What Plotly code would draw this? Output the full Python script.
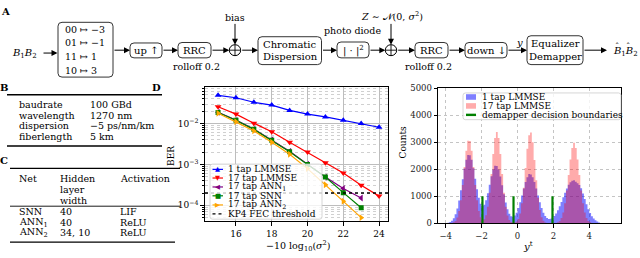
import plotly.graph_objects as go

W, H = 640, 258
SERIF = "DejaVu Serif"

# ---------------- Panel D data: BER vs noise level ----------------
snr_all = [15, 16, 17, 18, 19, 20, 21, 22, 23, 24]
snr_nets = [15, 16, 17, 18, 19, 20, 21, 22, 23]
ber_lmmse_1tap = [0.049, 0.0427, 0.0331, 0.0282, 0.0209, 0.0170, 0.0145, 0.0121, 0.0100, 0.0081]
ber_lmmse_17tap = [0.0257, 0.0170, 0.0102, 0.0063, 0.0035, 0.00200, 0.00110, 0.00062, 0.00031, 0.000168]
ber_ann1 = [0.0188, 0.0121, 0.0073, 0.0040, 0.0021, 0.00101, 0.00049, 0.000257, 0.000151]
ber_snn = [0.0186, 0.0120, 0.0072, 0.0039, 0.00204, 0.00100, 0.00049, 0.000204, 0.000087]
ber_ann2 = [0.0178, 0.0110, 0.0066, 0.00347, 0.00178, 0.00079, 0.00032, 0.000126, 0.000050]
kp4_threshold = 2.0e-4
names_d = ["1 tap LMMSE", "17 tap LMMSE", "17 tap ANN<sub>1</sub>", "17 tap SNN",
           "17 tap ANN<sub>2</sub>", "KP4 FEC threshold"]

# ---------------- Panel E data: histogram of equalised symbols ----------------
hist_first_edge = -3.9
hist_bin_width = 0.1
counts_1tap = [20, 45, 94, 180, 330, 545, 840, 1220, 1630, 2030, 2350, 2530, 2520, 2350, 2040,
               1650, 1260, 940, 720, 640, 680, 850, 1110, 1430, 1740, 1990, 2130, 2120, 1990,
               1730, 1410, 1070, 765, 520, 350, 256, 236, 282, 392, 559, 776, 1025, 1287, 1525,
               1707, 1820, 1810, 1707, 1526, 1289, 1028, 777, 559, 387, 265, 190, 158, 162, 200,
               265, 360, 481, 624, 786, 958, 1130, 1290, 1425, 1522, 1574, 1590, 1540, 1480,
               1420, 1300, 1100, 900, 700, 520, 380, 260, 170, 110, 60, 30, 12, 4]
counts_17tap = [0, 2, 10, 31, 86, 209, 450, 853, 1419, 2080, 2686, 3060, 3051, 2686, 2080,
                1419, 853, 454, 222, 128, 148, 296, 611, 1128, 1824, 2570, 3156, 3380, 3156,
                2570, 1824, 1128, 608, 286, 117, 43, 18, 23, 59, 155, 363, 741, 1318, 2044,
                2764, 3258, 3360, 3001, 2344, 1597, 948, 491, 222, 87, 30, 9, 2, 1, 1,
                4, 11, 33, 84, 194, 399, 736, 1213, 1789, 2362, 2791, 2980, 2791, 2362,
                1789, 1213, 736, 399, 194, 84, 33, 11, 4, 1, 0, 0, 0, 0]
decision_boundaries = [-1.95, -0.22, 1.95]
boundary_height = 1000
names_e = ["1 tap LMMSE", "17 tap LMMSE", "demapper decision boundaries"]

# ---------------- helpers (pixel -> paper) ----------------
def px(x):
    return x / W

def py(y):
    return 1 - y / H

def txt(x, y, s, size=10, anchor="center", color="black", family=SERIF, angle=0):
    return dict(x=px(x), y=py(y), xref="paper", yref="paper", text=s, showarrow=False,
                xanchor=anchor, yanchor="middle", textangle=angle,
                font=dict(family=family, size=size, color=color))

def arrow(x0, y0, x1, y1):
    return dict(x=px(x1), y=py(y1), xref="paper", yref="paper", ax=x0 - x1, ay=y0 - y1,
                axref="pixel", ayref="pixel", text="", showarrow=True, arrowhead=2,
                arrowsize=1.2, arrowwidth=1, arrowcolor="black", standoff=0)

def rrect(x0, y0, x1, y1, r=4, line="#333333", fill="white", width=1, layer="above"):
    X, Y = px, py
    p = (f"M {X(x0+r)},{Y(y0)} L {X(x1-r)},{Y(y0)} Q {X(x1)},{Y(y0)} {X(x1)},{Y(y0+r)} "
         f"L {X(x1)},{Y(y1-r)} Q {X(x1)},{Y(y1)} {X(x1-r)},{Y(y1)} L {X(x0+r)},{Y(y1)} "
         f"Q {X(x0)},{Y(y1)} {X(x0)},{Y(y1-r)} L {X(x0)},{Y(y0+r)} Q {X(x0)},{Y(y0)} {X(x0+r)},{Y(y0)} Z")
    return dict(type="path", path=p, xref="paper", yref="paper", layer=layer,
                line=dict(color=line, width=width), fillcolor=fill)

def hline(x0, x1, y, width=1.2, color="black", dash="solid"):
    return dict(type="line", xref="paper", yref="paper", x0=px(x0), x1=px(x1), y0=py(y), y1=py(y),
                line=dict(color=color, width=width, dash=dash), layer="above")

def rect(x0, y0, x1, y1, fill):
    return dict(type="rect", xref="paper", yref="paper", x0=px(x0), x1=px(x1), y0=py(y1), y1=py(y0),
                line=dict(width=0), fillcolor=fill, layer="above")

fig = go.Figure()

# ---------------- Panel D traces ----------------
styles = [("#0000ff", "triangle-up", 6), ("#ff0000", "triangle-down", 6), ("#800080", "triangle-left", 6),
          ("#008000", "square", 5), ("#ffa500", "triangle-right", 6)]
series = [(snr_all, ber_lmmse_1tap), (snr_all, ber_lmmse_17tap), (snr_nets, ber_ann1),
          (snr_nets, ber_snn), (snr_nets, ber_ann2)]
for (xs, ys), (c, sym, sz), nm in zip(series, styles, names_d):
    fig.add_trace(go.Scatter(x=xs, y=ys, mode="lines+markers", name=nm, xaxis="x", yaxis="y",
                             line=dict(color=c, width=1.2), marker=dict(color=c, symbol=sym, size=sz)))
xr_d = [14.27, 24.5]
fig.add_trace(go.Scatter(x=xr_d, y=[kp4_threshold, kp4_threshold], mode="lines", xaxis="x", yaxis="y",
                         line=dict(color="black", width=1.3, dash="dot"), name=names_d[5]))

# ---------------- Panel E traces ----------------
n = len(counts_1tap)
edges = [hist_first_edge + i * hist_bin_width for i in range(n + 1)]
fig.add_trace(go.Scatter(x=edges, y=counts_1tap + [counts_1tap[-1]], mode="lines", line_shape="hv",
                         fill="tozeroy", fillcolor="rgba(0,0,255,0.5)", line=dict(width=0),
                         xaxis="x2", yaxis="y2", name=names_e[0]))
fig.add_trace(go.Scatter(x=edges, y=counts_17tap + [counts_17tap[-1]], mode="lines", line_shape="hv",
                         fill="tozeroy", fillcolor="rgba(255,0,0,0.33)", line=dict(width=0),
                         xaxis="x2", yaxis="y2", name=names_e[1]))
bx, by = [], []
for b in decision_boundaries:
    bx += [b, b, None]
    by += [0, boundary_height, None]
fig.add_trace(go.Scatter(x=bx, y=by, mode="lines", line=dict(color="#008000", width=2.2),
                         xaxis="x2", yaxis="y2", name=names_e[2]))

# ---------------- axes ----------------
minor_d = [m * 10 ** e for e in range(-5, -1) for m in range(2, 10)]
tickfont = dict(family=SERIF, size=9, color="black")
fig.update_layout(
    width=W, height=H, margin=dict(l=0, r=0, t=0, b=0), paper_bgcolor="white",
    plot_bgcolor="white", showlegend=False,
    xaxis=dict(domain=[px(205), px(388)], anchor="y", range=xr_d, tickvals=[16, 18, 20, 22, 24],
               ticks="outside", ticklen=3.5, tickcolor="black", showline=True, linecolor="black",
               linewidth=1.2, mirror=True, showgrid=True, gridcolor="#bdbdbd", gridwidth=0.8,
               zeroline=False, tickfont=tickfont),
    yaxis=dict(domain=[py(225), py(85)], anchor="x", type="log", range=[-4.39, -1.10],
               tickvals=[1e-4, 1e-3, 1e-2], ticktext=["10<sup>−4</sup>", "10<sup>−3</sup>", "10<sup>−2</sup>"],
               ticks="outside", ticklen=3.5, tickcolor="black", showline=True, linecolor="black",
               linewidth=1.2, mirror=True, showgrid=True, gridcolor="#bdbdbd", gridwidth=0.8,
               zeroline=False, tickfont=tickfont,
               minor=dict(tickmode="array", tickvals=minor_d, ticks="outside", ticklen=2,
                          tickcolor="black", showgrid=True, gridcolor="#d0d0d0", griddash="dot",
                          gridwidth=0.6)),
    xaxis2=dict(domain=[px(438.3), px(620.7)], anchor="y2", range=[-4.41, 5.75],
                tickvals=[-4, -2, 0, 2, 4], ticks="outside", ticklen=4, tickcolor="black",
                showline=True, linecolor="black", linewidth=1.3, mirror=True, showgrid=True,
                gridcolor="#c4c4c4", griddash="dot", gridwidth=0.7, zeroline=False,
                tickfont=dict(family=SERIF, size=8.5, color="#222")),
    yaxis2=dict(domain=[py(227), py(86.7)], anchor="x2", range=[0, 5000], dtick=1000, ticks="outside",
                ticklen=3.5, tickcolor="black", showline=True, linecolor="black", linewidth=1.3,
                mirror=True, showgrid=True, gridcolor="#c4c4c4", griddash="dot", gridwidth=0.7,
                zeroline=False, tickfont=dict(family=SERIF, size=8.5, color="#222")),
)

shapes, ann = [], []

# ---------------- Panel A: block diagram ----------------
ann.append(txt(5, 7, "<b>A</b>", size=10))
ann.append(txt(24, 50, "<i>B</i><sub>1</sub><i>B</i><sub>2</sub>", size=10))
shapes.append(rrect(58, 18, 113, 75))
for yy, s in zip([25, 39.3, 54, 68.3], ["00 ↦ −3", "01 ↦ −1", "11 ↦ 1", "10 ↦ 3"]):
    ann.append(txt(63, yy, s, size=9.5, anchor="left"))
shapes.append(rrect(130, 39.5, 162, 55))
ann.append(txt(146, 47, "up ↑", size=10))
shapes.append(rrect(178, 39, 211, 55))
ann.append(txt(194.5, 47, "RRC", size=10))
ann.append(txt(196, 64, "rolloff 0.2", size=9.5))
ann.append(txt(235, 13, "bias", size=9.5))
shapes.append(rrect(258, 33, 321.5, 62))
ann.append(txt(290, 40.7, "Chromatic", size=10))
ann.append(txt(290, 53.3, "Dispersion", size=10))
ann.append(txt(352, 27, "photo diode", size=9.5))
shapes.append(rrect(337, 38.5, 369, 55))
ann.append(txt(353, 47, "| · |<sup>2</sup>", size=10))
ann.append(txt(391.7, 11.7, "<i>Z</i> ∼ 𝒩(0, <i>σ</i><sup>2</sup>)", size=9.5))
shapes.append(rrect(415, 39, 448, 55))
ann.append(txt(431.5, 47, "RRC", size=10))
ann.append(txt(428.7, 64, "rolloff 0.2", size=9.5))
shapes.append(rrect(465, 39, 507, 55))
ann.append(txt(486, 47, "down ↓", size=10))
ann.append(txt(519, 39.5, "<i>y</i>", size=10))
shapes.append(rrect(527, 32, 583, 62))
ann.append(txt(555, 40, "Equalizer", size=10))
ann.append(txt(555, 53.3, "Demapper", size=10))
ann.append(txt(611, 48, "<i>B</i><sub>1</sub><i>B</i><sub>2</sub>", size=10, anchor="left"))
ann.append(txt(616.5, 43.5, "ˆ", size=8.5))
ann.append(txt(628, 43.5, "ˆ", size=8.5))
for cx in (235, 391):
    r = 5.7
    shapes.append(dict(type="circle", xref="paper", yref="paper", x0=px(cx - r), x1=px(cx + r),
                       y0=py(47 + r), y1=py(47 - r), line=dict(color="black", width=1),
                       fillcolor="white", layer="above"))
    shapes.append(hline(cx - r, cx + r, 47, width=0.9))
    shapes.append(dict(type="line", xref="paper", yref="paper", x0=px(cx), x1=px(cx), y0=py(47 - r),
                       y1=py(47 + r), line=dict(color="black", width=0.9), layer="above"))
for a in [(42, 50, 57.5, 50), (113, 47, 130, 47), (162, 47, 178, 47), (211, 47, 229.3, 47),
          (235, 19, 235, 41.3), (240.7, 47, 258, 47), (321.5, 47, 337, 47), (369, 47, 385.3, 47),
          (391, 19, 391, 41.3), (396.7, 47, 415, 47), (448, 47, 465, 47), (507, 47, 527, 47),
          (583, 47, 607, 47)]:
    ann.append(arrow(*a))

# ---------------- Panel B table ----------------
ann.append(txt(4, 86, "<b>B</b>", size=10))
shapes.append(hline(7, 162, 93.3, width=1.4))
shapes.append(hline(7, 162, 146.7, width=1.4))
b_keys = ["baudrate", "wavelength", "dispersion", "fiberlength"]
b_vals = ["100 GBd", "1270 nm", "−5 ps/nm/km", "5 km"]
for yy, k, v in zip([104, 114.5, 125.3, 136.3], b_keys, b_vals):
    ann.append(txt(16.7, yy, k, size=9.5, anchor="left"))
    ann.append(txt(88.3, yy, v, size=9.5, anchor="left"))

# ---------------- Panel C table ----------------
ann.append(txt(4, 162, "<b>C</b>", size=10))
shapes.append(hline(10, 180, 170, width=1.4))
shapes.append(hline(10, 180, 209.3, width=0.9))
shapes.append(hline(10, 175, 246.7, width=1.4))
ann.append(txt(16.7, 180, "Net", size=9.5, anchor="left"))
ann.append(txt(58.3, 180, "Hidden", size=9.5, anchor="left"))
ann.append(txt(58.3, 191.5, "layer", size=9.5, anchor="left"))
ann.append(txt(58.3, 203, "width", size=9.5, anchor="left"))
ann.append(txt(118.3, 180, "Activation", size=9.5, anchor="left"))
c_net = ["SNN", "ANN<sub>1</sub>", "ANN<sub>2</sub>"]
c_width = ["40", "40", "34, 10"]
c_act = ["LIF", "ReLU", "ReLU"]
for yy, a1, a2, a3 in zip([215, 225.8, 236.5], c_net, c_width, c_act):
    ann.append(txt(16.7, yy, a1, size=9.5, anchor="left"))
    ann.append(txt(58.3, yy, a2, size=9.5, anchor="left"))
    ann.append(txt(118.3, yy, a3, size=9.5, anchor="left"))

# ---------------- Panel D labels / legend ----------------
ann.append(txt(156, 86, "<b>D</b>", size=10))
ann.append(txt(171, 157, "BER", size=9, angle=-90))
ann.append(txt(298, 250.5, "−10 log<sub>10</sub>(<i>σ</i><sup>2</sup>)", size=9.5))
shapes.append(rrect(210, 165.5, 322, 222.8, r=2.5, line="#cccccc", fill="rgba(255,255,255,0.8)", width=0.8))
leg_y = [171, 180, 189.3, 198.5, 208, 217.3]
glyphs = ["▲", "▼", "◀", "■", "▶"]
for i, (yy, nm) in enumerate(zip(leg_y, names_d)):
    if i < 5:
        c = styles[i][0]
        shapes.append(hline(212.5, 223, yy, width=1.2, color=c))
        ann.append(txt(217.7, yy, glyphs[i], size=6.5, color=c, family="DejaVu Sans"))
    else:
        shapes.append(hline(212.5, 223, yy, width=1.3, color="black", dash="dot"))
    ann.append(txt(226, yy, nm, size=9, anchor="left"))

# ---------------- Panel E labels / legend ----------------
ann.append(txt(403, 143, "Counts", size=9, angle=-90))
ann.append(txt(528, 250.5, "<i>y</i><sup>t</sup>", size=10))
shapes.append(rrect(463, 91.5, 621, 119.3, r=2.5, line="#cccccc", fill="rgba(255,255,255,0.8)", width=0.8))
shapes.append(rect(466, 92.8, 476, 98.6, "rgba(0,0,255,0.5)"))
shapes.append(rect(466, 102.1, 476, 107.9, "rgba(255,0,0,0.33)"))
shapes.append(hline(466, 476, 114.3, width=2.4, color="#008000"))
for yy, nm in zip([95.7, 105, 114.3], names_e):
    ann.append(txt(480, yy, nm, size=9, anchor="left"))

fig.update_layout(shapes=shapes, annotations=ann)
fig.write_html("out.html", config={"displayModeBar": False},
               post_script="document.body.style.margin='0px';")
